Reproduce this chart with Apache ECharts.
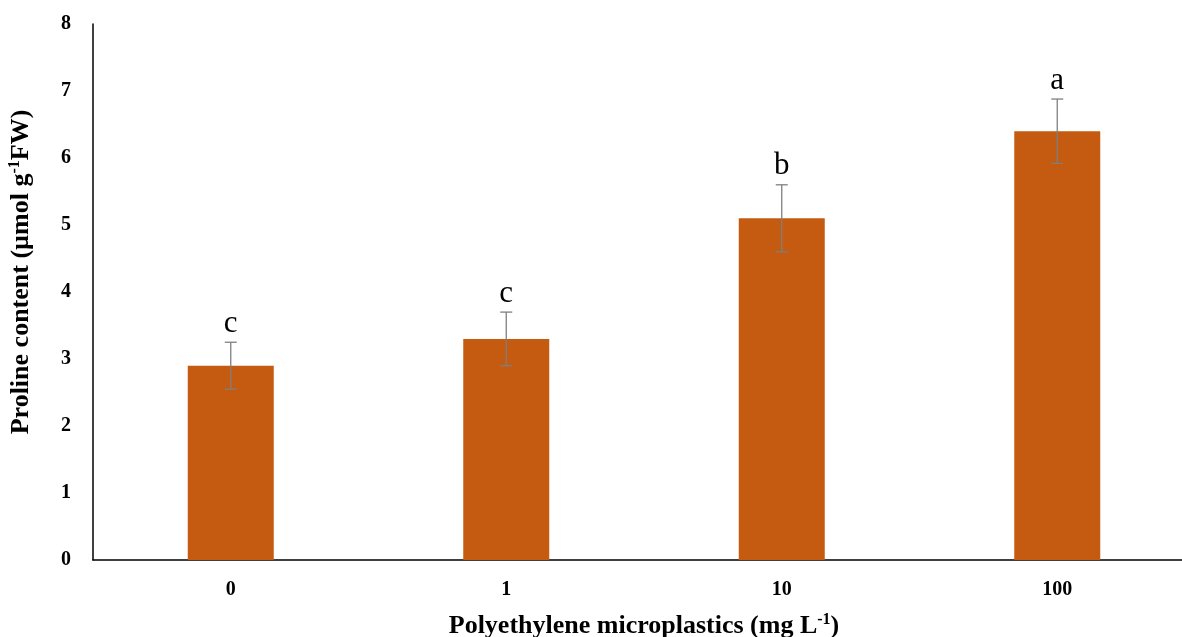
<!DOCTYPE html>
<html>
<head>
<meta charset="utf-8">
<script src="https://cdn.jsdelivr.net/npm/echarts@6/dist/echarts.min.js"></script>
<style>
  html, body { margin: 0; padding: 0; background: #fff; }
  #chart { width: 1182px; height: 637px; }
</style>
</head>
<body>
<div id="chart"></div>
<script>
// Polyethylene microplastic concentrations (mg L-1)
const categories = ['0', '1', '10', '100'];
// Mean proline content (µmol g-1 FW)
const means = [2.9, 3.3, 5.1, 6.4];
// Error (± value)
const errors = [0.35, 0.4, 0.5, 0.48];
// Significance letters
const letters = ['c', 'c', 'b', 'a'];
const yTicks = [0, 1, 2, 3, 4, 5, 6, 7, 8];

const serif = '"Liberation Serif", "Times New Roman", serif';
const chart = echarts.init(document.getElementById('chart'));

chart.setOption({
  animation: false,
  backgroundColor: '#ffffff',
  grid: { left: 93, right: -13, top: 24, bottom: 77, outerBoundsMode: 'none', containLabel: false },
  xAxis: {
    type: 'category',
    data: categories,
    axisLine: { lineStyle: { color: '#000', width: 1.5 } },
    axisTick: { show: false },
    axisLabel: {
      color: '#000', fontFamily: serif, fontWeight: 'bold', fontSize: 20, margin: 20
    },
    name: '{t|Polyethylene microplastics (mg L}{s|-1}{t|)}',
    nameLocation: 'middle',
    nameGap: 52,
    nameTextStyle: {
      rich: {
        t: { fontFamily: serif, fontWeight: 'bold', fontSize: 26, color: '#000' },
        s: { fontFamily: serif, fontWeight: 'bold', fontSize: 16, color: '#000', verticalAlign: 'top', padding: [0, 0, 12, 0] }
      }
    }
  },
  yAxis: {
    type: 'value',
    min: yTicks[0],
    max: yTicks[yTicks.length - 1],
    interval: 1,
    splitLine: { show: false },
    axisLine: { show: true, lineStyle: { color: '#000', width: 1.5 } },
    axisTick: { show: false },
    axisLabel: {
      color: '#000', fontFamily: serif, fontWeight: 'bold', fontSize: 20, margin: 22
    },
    name: '{t|Proline content (µmol g}{s|-1}{t|FW)}',
    nameLocation: 'middle',
    nameGap: 58,
    nameRotate: 90,
    nameTextStyle: {
      padding: [0, 0, 0, 40],
      rich: {
        t: { fontFamily: serif, fontWeight: 'bold', fontSize: 26, color: '#000' },
        s: { fontFamily: serif, fontWeight: 'bold', fontSize: 16, color: '#000', verticalAlign: 'top', padding: [0, 0, 12, 0] }
      }
    }
  },
  series: [
    {
      type: 'bar',
      data: means,
      barWidth: 86,
      itemStyle: { color: '#C55A11' }
    },
    {
      type: 'custom',
      data: means.map((m, i) => [i, m, errors[i]]),
      z: 10,
      renderItem: function (params, api) {
        const x = api.value(0);
        const m = api.value(1);
        const e = api.value(2);
        const top = api.coord([x, m + e]);
        const bot = api.coord([x, m - e]);
        const half = 6;
        const style = { stroke: '#7f7f7f', lineWidth: 1.3 };
        return {
          type: 'group',
          children: [
            { type: 'line', shape: { x1: top[0], y1: top[1], x2: bot[0], y2: bot[1] }, style: style },
            { type: 'line', shape: { x1: top[0] - half, y1: top[1], x2: top[0] + half, y2: top[1] }, style: style },
            { type: 'line', shape: { x1: bot[0] - half, y1: bot[1], x2: bot[0] + half, y2: bot[1] }, style: style },
            {
              type: 'text',
              style: {
                text: letters[params.dataIndex],
                x: top[0], y: top[1] - 3,
                align: 'center', verticalAlign: 'bottom',
                fontFamily: serif, fontSize: 31, fill: '#000'
              }
            }
          ]
        };
      }
    }
  ]
});
</script>
</body>
</html>
